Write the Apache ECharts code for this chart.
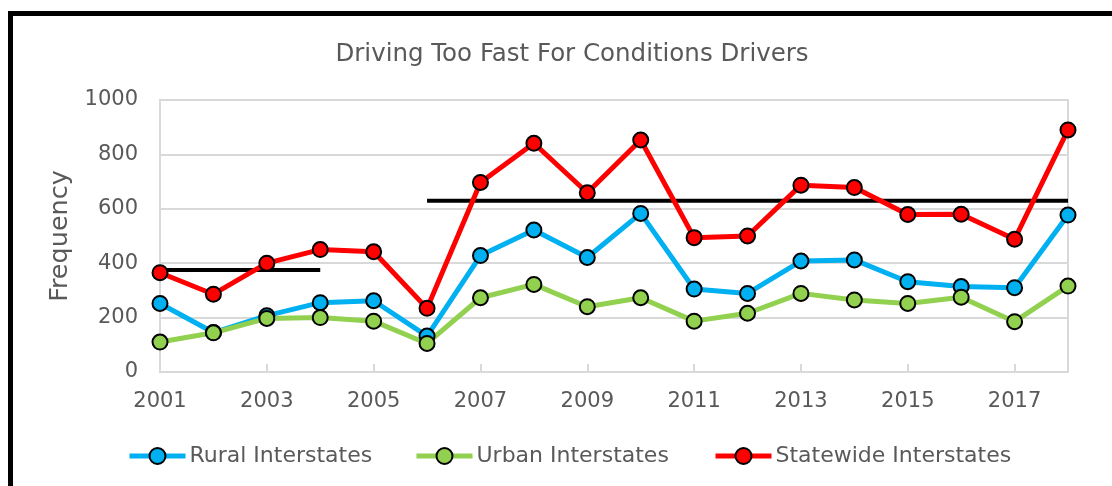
<!DOCTYPE html>
<html>
<head>
<meta charset="utf-8">
<script src="https://cdn.jsdelivr.net/npm/echarts@6/dist/echarts.min.js"></script>
<style>
  html, body { margin: 0; padding: 0; background: #fff; }
  #chart { width: 1112px; height: 486px; }
</style>
</head>
<body>
<div id="chart"></div>
<script>
const years = ['2001', '2002', '2003', '2004', '2005', '2006', '2007', '2008', '2009',
  '2010', '2011', '2012', '2013', '2014', '2015', '2016', '2017', '2018']
const rural = [252, 145, 207, 255, 262, 132, 428, 522, 421, 583, 305, 289, 408, 412, 332, 314, 310, 577]
const urban = [110, 144, 197, 200, 187, 105, 273, 322, 240, 273, 187, 216, 289, 265, 252, 275, 185, 316]
const statewide = [365, 286, 400, 450, 442, 234, 697, 841, 659, 853, 494, 500, 687, 678, 579, 580, 488, 890]
// the two black average lines
const avgEarly = [375, 375, 375, 375, null, null, null, null, null, null, null, null, null, null, null, null, null, null]
const avgLate = [null, null, null, null, null, 630, 630, 630, 630, 630, 630, 630, 630, 630, 630, 630, 630, 630]

const font = 'DejaVu Sans'
const textColor = '#595959'

function dataSeries(name, data, color) {
  return {
    name: name,
    type: 'line',
    data: data,
    symbol: 'circle',
    symbolSize: 15,
    lineStyle: { width: 5, color: color },
    itemStyle: { color: color, borderColor: '#000', borderWidth: 2 },
    z: 3
  }
}

function legendAt(name, left) {
  return {
    data: [name],
    left: left,
    top: 445,
    padding: 0,
    itemWidth: 56,
    itemHeight: 20,
    itemGap: 0,
    lineStyle: { width: 5 },
    textStyle: { fontFamily: font, fontSize: 22, color: textColor, padding: [0, 0, 0, -1] },
    selectedMode: false
  }
}

const chart = echarts.init(document.getElementById('chart'))
chart.setOption({
  animation: false,
  backgroundColor: '#fff',
  title: {
    text: 'Driving Too Fast For Conditions Drivers',
    left: 567,
    top: 37,
    textAlign: 'center',
    textStyle: { fontFamily: font, fontSize: 24.5, fontWeight: 'normal', color: textColor }
  },
  legend: [
    legendAt('Rural Interstates', 127),
    legendAt('Urban Interstates', 414),
    legendAt('Statewide Interstates', 713)
  ],
  grid: { left: 160, right: 44, top: 100, bottom: 114, show: true, borderColor: '#d9d9d9', borderWidth: 2 },
  xAxis: {
    type: 'category',
    data: years,
    boundaryGap: false,
    axisLine: { lineStyle: { color: '#d9d9d9', width: 2 } },
    axisTick: { inside: true, length: 8, interval: 1, lineStyle: { color: '#d9d9d9', width: 2 } },
    axisLabel: { interval: 1, margin: 19, fontFamily: font, fontSize: 21, color: textColor }
  },
  yAxis: {
    type: 'value',
    min: 0,
    max: 1000,
    interval: 200,
    name: 'Frequency',
    nameLocation: 'middle',
    nameGap: 86,
    nameTextStyle: { fontFamily: font, fontSize: 25.5, color: textColor },
    axisLine: { show: true, lineStyle: { color: '#d9d9d9', width: 2 } },
    axisLabel: { margin: 22, fontFamily: font, fontSize: 21, color: textColor, formatter: v => String(v) },
    splitLine: { lineStyle: { color: '#d9d9d9', width: 2 } }
  },
  series: [
    { name: 'avgEarly', type: 'line', data: avgEarly, symbol: 'none', lineStyle: { width: 4, color: '#000' }, z: 2 },
    { name: 'avgLate', type: 'line', data: avgLate, symbol: 'none', lineStyle: { width: 4, color: '#000' }, z: 2 },
    dataSeries('Rural Interstates', rural, '#00b0f0'),
    dataSeries('Urban Interstates', urban, '#92d050'),
    dataSeries('Statewide Interstates', statewide, '#ff0000')
  ],
  graphic: [
    { type: 'rect', shape: { x: 8, y: 11, width: 1104, height: 5 }, style: { fill: '#000' } },
    { type: 'rect', shape: { x: 8, y: 11, width: 5, height: 475 }, style: { fill: '#000' } }
  ]
})
</script>
</body>
</html>
